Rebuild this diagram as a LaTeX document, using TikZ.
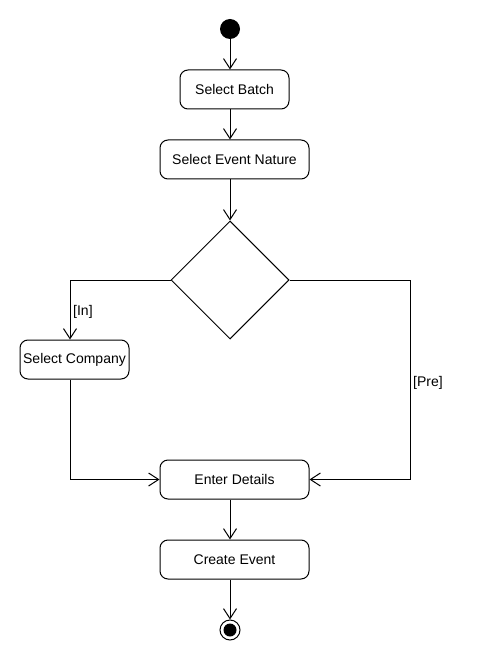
\documentclass[tikz,border=0pt]{standalone}
\usepackage{fontspec}
\setmainfont{Liberation Sans}
\usetikzlibrary{arrows.meta,shapes.geometric}
\begin{document}
\begin{tikzpicture}[x=1pt,y=-1pt,
  every node/.style={font=\fontsize{14}{16}\selectfont},
  act/.style={draw,line width=1pt,rounded corners=8pt,minimum height=39pt,inner sep=0pt},
  actw/.style={act,minimum width=149pt},
  acts/.style={act,minimum width=109pt},
  arr/.style={line width=1pt,-{Straight Barb[length=10pt,width=13pt,line width=1pt]}},
  lbl/.style={inner sep=0pt,font=\fontsize{14}{16}\selectfont}]
\useasboundingbox[fill=white] (0,0) rectangle (480,660);
\coordinate (ax) at (230,0);
\coordinate (lx) at (70,0);
\coordinate (rx) at (410,0);
\node[circle,fill=black,minimum size=20pt,inner sep=0pt] (start) at (230,29) {};
\node[acts] (sb) at (234.5,89.5) {Select Batch};
\node[actw] (sen) at (234.5,159.5) {Select Event Nature};
\node[diamond,draw,line width=1pt,minimum width=118pt,minimum height=118pt,inner sep=0pt] (dec) at (230,280) {};
\node[acts] (sc) at (74.5,359.5) {Select Company};
\node[actw] (ed) at (234.5,479.5) {Enter Details};
\node[actw] (ce) at (234.5,559.5) {Create Event};
\node[circle,draw,line width=1pt,minimum size=20pt,inner sep=0pt] (end) at (230,630) {};
\node[circle,fill=black,minimum size=13pt,inner sep=0pt] (endin) at (end.center) {};
\node[lbl,anchor=west] (lin) at (73,312) {[In]};
\node[lbl,anchor=west] (lpre) at (413,383) {[Pre]};
\draw[arr] (start) -- (sb.north -| start);
\draw[arr] (sb.south -| ax) -- (sen.north -| ax);
\draw[arr] (sen.south -| ax) -- (dec.north);
\draw[arr] (dec.west) -| (sc.north -| lx);
\draw[arr] (sc.south -| lx) |- (ed.west);
\draw[arr] (dec.east) -| (rx |- ed.east) -- (ed.east);
\draw[arr] (ed.south -| ax) -- (ce.north -| ax);
\draw[arr] (ce.south -| ax) -- (end.north);
\end{tikzpicture}
\end{document}
